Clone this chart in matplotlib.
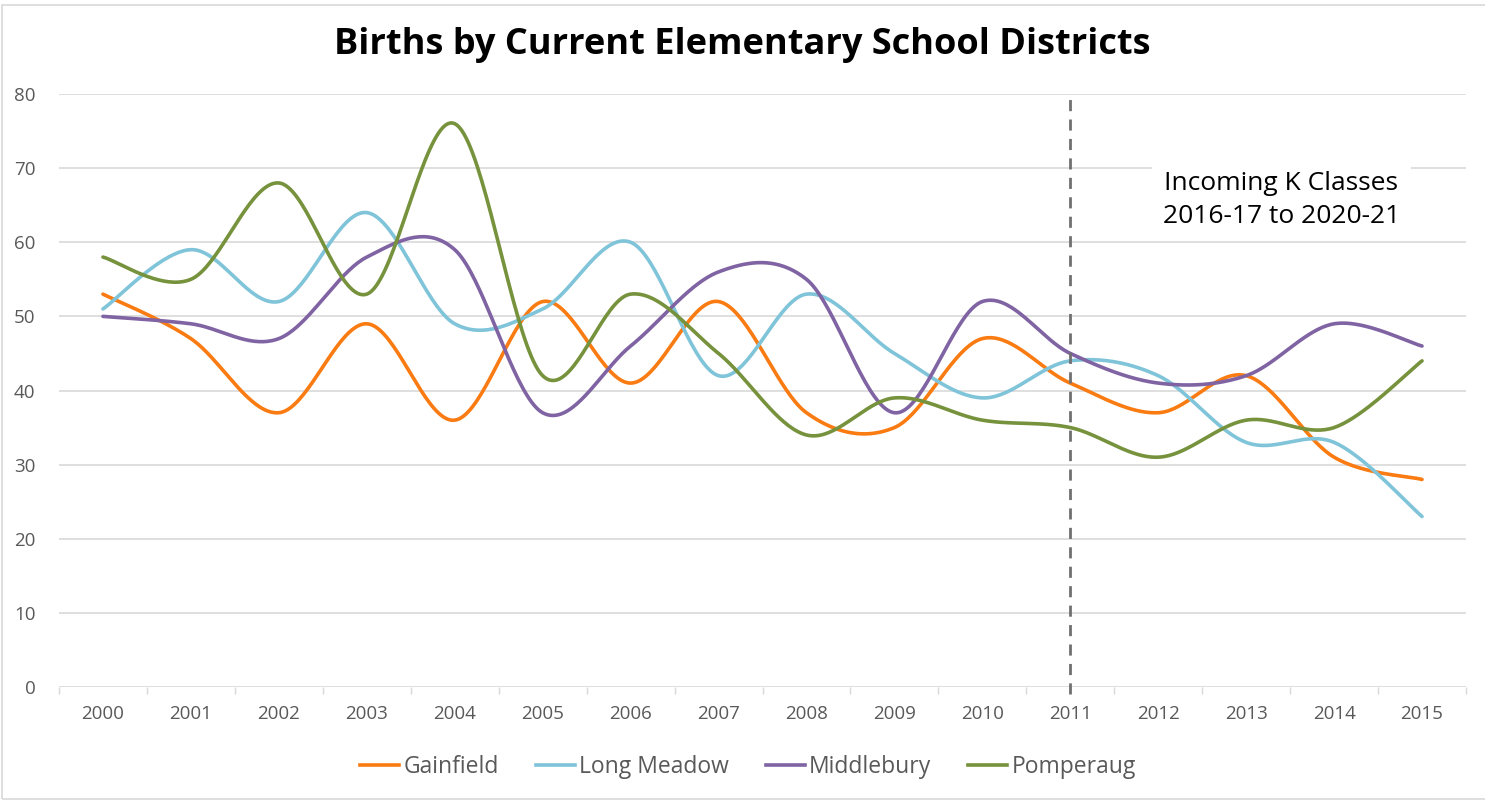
import numpy as np
import matplotlib
matplotlib.use("Agg")
import matplotlib.pyplot as plt
from matplotlib.lines import Line2D
from matplotlib.patches import Rectangle

years = list(range(2000, 2016))
gainfield = [53, 47, 37, 49, 36, 52, 41, 52, 37, 35, 47, 41, 37, 42, 31, 28]
long_meadow = [51, 59, 52, 64, 49, 51, 60, 42, 53, 45, 39, 44, 42, 33, 33, 23]
middlebury = [50, 49, 47, 58, 59, 37, 46, 56, 55, 37, 52, 45, 41, 42, 49, 46]
pomperaug = [58, 55, 68, 53, 76, 42, 53, 45, 34, 39, 36, 35, 31, 36, 35, 44]
series_names = ["Gainfield", "Long Meadow", "Middlebury", "Pomperaug"]
colors = ["#F97B12", "#7FC4D9", "#7F63A3", "#76923C"]
title = "Births by Current Elementary School Districts"
note = "Incoming K Classes\n2016-17 to 2020-21"

plt.rcParams['font.family'] = ['Open Sans', 'DejaVu Sans']


def smooth(x, y, n=40):
    x = np.asarray(x, float)
    y = np.asarray(y, float)
    P = np.column_stack([x, y])
    m = len(P)
    out = []
    for i in range(m - 1):
        p0 = P[max(i - 1, 0)]
        p1 = P[i]
        p2 = P[i + 1]
        p3 = P[min(i + 2, m - 1)]
        c1 = p1 + (p2 - p0) / 6.0
        c2 = p2 - (p3 - p1) / 6.0
        t = np.linspace(0, 1, n)[:, None]
        seg = ((1 - t) ** 3) * p1 + 3 * ((1 - t) ** 2) * t * c1 + 3 * (1 - t) * t ** 2 * c2 + t ** 3 * p2
        if i > 0:
            seg = seg[1:]
        out.append(seg)
    out = np.vstack(out)
    return out[:, 0], out[:, 1]


fig = plt.figure(figsize=(14.85, 8.0), dpi=100)
fig.patches.append(Rectangle((2 / 1485, 1 / 800), 1.2, 1 - 5.5 / 800, transform=fig.transFigure,
                             fill=False, ec='#d9d9d9', lw=1.2))
ax = fig.add_axes([59 / 1485, 1 - 687 / 800, (1466 - 59) / 1485, (687 - 94) / 800])

xs = np.arange(len(years))
for vals, c in zip([gainfield, long_meadow, middlebury, pomperaug], colors):
    sx, sy = smooth(xs, vals)
    ax.plot(sx, sy, color=c, lw=2.6, solid_capstyle='round', zorder=3)

ax.set_xlim(-0.5, len(years) - 0.5)
ax.set_ylim(0, 80)
ax.set_yticks(range(0, 81, 10))
ax.set_xticks(xs)
ax.set_xticklabels([str(y) for y in years])
ax.set_xticks(np.arange(-0.5, len(years), 1), minor=True)
ax.tick_params(axis='x', which='major', length=0, pad=13, labelsize=13.5, labelcolor='#595959')
ax.tick_params(axis='x', which='minor', length=5, color='#d9d9d9', width=1)
ax.tick_params(axis='y', length=0, pad=17, labelsize=13.5, labelcolor='#595959')
for lab in ax.get_yticklabels():
    lab.set_horizontalalignment('right')
ax.grid(axis='y', color='#d9d9d9', lw=1.2, zorder=0)
ax.set_axisbelow(True)
for s in ax.spines.values():
    s.set_visible(False)

ax.axvline(11, ymin=-0.012, ymax=1.0, color='#707070', lw=2, ls=(0, (4, 3)), zorder=4, clip_on=False)

ax.text(13.4, 65.7, note, ha='center', va='center', fontsize=19, color='black', linespacing=1.45,
        bbox=dict(boxstyle='square,pad=0.4', fc='white', ec='none'), zorder=5)

fig.text(742 / 1485, 1 - 45 / 800, title, ha='center', va='center', fontsize=26, fontweight='bold', color='black')

handles = [Line2D([0], [0], color=c, lw=2.6) for c in colors]
fig.legend(handles, series_names, loc='center', bbox_to_anchor=(748 / 1485, 1 - 767 / 800), ncol=4,
           frameon=False, fontsize=16.5, handlelength=1.7, handletextpad=0.2, columnspacing=1.6,
           labelcolor='#595959')

fig.savefig("out.png", dpi=100)
